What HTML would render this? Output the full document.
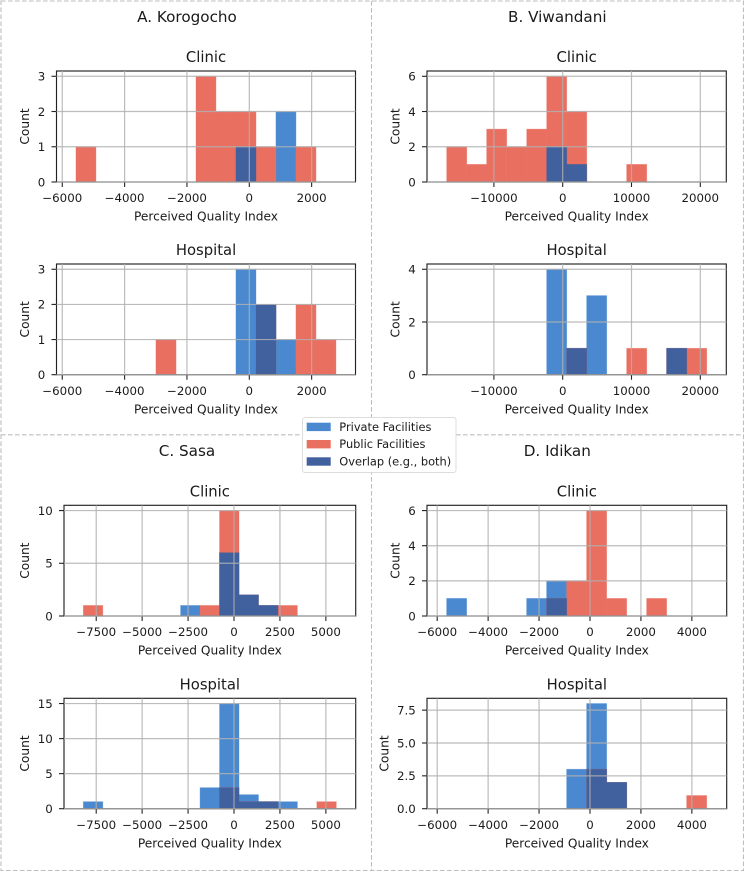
<!DOCTYPE html>
<html>
<head>
<meta charset="utf-8">
<style>
html,body{margin:0;padding:0;background:#fff;}
svg{display:block;}
text{font-family:"DejaVu Sans","Liberation Sans",sans-serif;fill:#1a1a1a;}
</style>
</head>
<body>
<svg id="figure" width="744" height="871" viewBox="0 0 744 871" xmlns="http://www.w3.org/2000/svg">
  <rect x="0" y="0" width="744" height="871" fill="#ffffff"/>
  <g fill="none" stroke="#bdbdbd" stroke-width="1.1" stroke-dasharray="4.6 2.4">
    <rect x="1" y="1" width="742.5" height="869.5"/>
    <line x1="371.5" y1="1" x2="371.5" y2="870.5"/>
    <line x1="1" y1="434.8" x2="743.5" y2="434.8"/>
  </g>
  <text x="187" y="22" font-size="15.2" text-anchor="middle">A. Korogocho</text>
  <text x="557.3" y="22" font-size="15.2" text-anchor="middle">B. Viwandani</text>
  <text x="187" y="456" font-size="15.2" text-anchor="middle">C. Sasa</text>
  <text x="557.3" y="456" font-size="15.2" text-anchor="middle">D. Idikan</text>
  <g id="charts"></g>
  <g>
    <rect x="302.5" y="417.5" width="153.5" height="55" rx="2.5" fill="#ffffff" fill-opacity="0.95" stroke="#dcdcdc" stroke-width="1"/>
    <g>
      <rect x="306.7" y="422.7" width="24" height="8.4" fill="#4a89cf"/>
      <text x="339.3" y="431" font-size="11.4">Private Facilities</text>
    </g>
    <g>
      <rect x="306.7" y="440" width="24" height="8.4" fill="#e96f61"/>
      <text x="339.3" y="448.2" font-size="11.4">Public Facilities</text>
    </g>
    <g>
      <rect x="306.7" y="457.3" width="24" height="8.4" fill="#41609e"/>
      <text x="339.3" y="465.5" font-size="11.4">Overlap (e.g., both)</text>
    </g>
  </g>
</svg>
<script>
// Bin edges per site (quality index units)
const korogochoEdges = [-5560,-4920,-4280,-3640,-2995,-2350,-1710,-1070,-428,214,855,1497,2139,2780];
const viwandaniEdges = [-16860,-13950,-11050,-8140,-5230,-2325,581,3488,6395,9300,12210,15116,18023,20930];
const sasaEdges = [-8200,-7141,-6082,-5023,-3964,-2905,-1846,-787,272,1331,2390,3449,4508,5567];
const idikanEdges = [-5628,-4843,-4058,-3272,-2487,-1702,-916,-131,654,1440,2225,3010,3796,4581];

// Counts per bin
const korogochoClinicPrivate = [0,0,0,0,0,0,0,0,1,0,2,0,0];
const korogochoClinicPublic = [1,0,0,0,0,0,3,2,2,1,0,1,0];
const korogochoHospitalPrivate = [0,0,0,0,0,0,0,0,3,2,1,0,0];
const korogochoHospitalPublic = [0,0,0,0,1,0,0,0,0,2,0,2,1];
const viwandaniClinicPrivate = [0,0,0,0,0,2,1,0,0,0,0,0,0];
const viwandaniClinicPublic = [2,1,3,2,3,6,4,0,0,1,0,0,0];
const viwandaniHospitalPrivate = [0,0,0,0,0,4,1,3,0,0,0,1,0];
const viwandaniHospitalPublic = [0,0,0,0,0,0,1,0,0,1,0,1,1];
const sasaClinicPrivate = [0,0,0,0,0,1,0,6,2,1,0,0,0];
const sasaClinicPublic = [1,0,0,0,0,0,1,10,2,1,1,0,0];
const sasaHospitalPrivate = [1,0,0,0,0,0,3,15,2,1,1,0,0];
const sasaHospitalPublic = [0,0,0,0,0,0,0,3,1,1,0,0,1];
const idikanClinicPrivate = [1,0,0,0,1,2,0,0,0,0,0,0,0];
const idikanClinicPublic = [0,0,0,0,0,1,2,6,1,0,1,0,0];
const idikanHospitalPrivate = [0,0,0,0,0,0,3,8,2,0,0,0,0];
const idikanHospitalPublic = [0,0,0,0,0,0,0,3,2,0,0,0,1];

// Axis ticks
const korogochoXTicks = [-6000,-4000,-2000,0,2000];
const viwandaniXTicks = [-10000,0,10000,20000];
const sasaXTicks = [-7500,-5000,-2500,0,2500,5000];
const idikanXTicks = [-6000,-4000,-2000,0,2000,4000];
const korogochoClinicYTicks = [0,1,2,3];
const korogochoHospitalYTicks = [0,1,2,3];
const viwandaniClinicYTicks = [0,2,4,6];
const viwandaniHospitalYTicks = [0,2,4];
const sasaClinicYTicks = [0,5,10];
const sasaHospitalYTicks = [0,5,10,15];
const idikanClinicYTicks = [0,2,4,6];
const idikanHospitalYTicks = ['0.0','2.5','5.0','7.5'];

// Axis x-limits
const korogochoXLimits = [-6185,3407];
const viwandaniXLimits = [-19724,23779];
const sasaXLimits = [-9253,6624];
const idikanXLimits = [-6400,5368];

const COLORS = {private:'#4a89cf', public:'#e96f61', overlap:'#41609e'};
const SVGNS = 'http://www.w3.org/2000/svg';
const root = document.getElementById('charts');

function make(parent, tag, attrs, txt){
  const el = document.createElementNS(SVGNS, tag);
  for (const k in attrs) el.setAttribute(k, attrs[k]);
  if (txt !== undefined) el.textContent = txt;
  parent.appendChild(el);
  return el;
}
function fmt(v){ return String(v).replace('-', '\u2212'); }

function drawChart(o){
  const g = make(root, 'g', {});
  
  
  const w = o.right - o.left, h = o.bottom - o.top;
  const maxCount = Math.max.apply(null, o.priv.concat(o.pub));
  const yMax = maxCount * 1.05;
  const xScale = v => o.left + (v - o.xLim[0]) / (o.xLim[1] - o.xLim[0]) * w;
  const yScale = v => o.bottom - v / yMax * h;

  const drawBars = (values, color, kind) => {
    values.forEach((c, i) => {
      if (!(c > 0)) return;
      const x0 = xScale(o.edges[i]), x1 = xScale(o.edges[i + 1]);
      const bar = make(g, 'rect', {x:x0, y:yScale(c), width:x1 - x0, height:o.bottom - yScale(c), fill:color, stroke:color, 'stroke-width':0.8, 'stroke-opacity':0.45});
      
      
    });
  };
  drawBars(o.priv, COLORS.private, 'private');
  drawBars(o.pub, COLORS.public, 'public');
  drawBars(o.priv.map((p, i) => Math.min(p, o.pub[i])), COLORS.overlap, 'overlap');

  const frame = make(g, 'rect', {x:o.left, y:o.top, width:w, height:h, fill:'none', stroke:'#222', 'stroke-width':1.15});
  
  

  o.xTicks.forEach(v => {
    const x = xScale(v);
    const gl = make(g, 'line', {x1:x, x2:x, y1:o.top, y2:o.bottom, stroke:'#b0b0b0', 'stroke-width':1.2, 'stroke-opacity':0.85});
    
    
    const tk = make(g, 'line', {x1:x, x2:x, y1:o.bottom, y2:o.bottom + 5, stroke:'#222', 'stroke-width':1.1});
    
    
    const lb = make(g, 'text', {x:x, y:o.bottom + 20.2, 'font-size':11.8, 'text-anchor':'middle'}, fmt(v));
    
    
  });
  o.yTicks.forEach(v => {
    const y = yScale(+v);
    const gl = make(g, 'line', {x1:o.left, x2:o.right, y1:y, y2:y, stroke:'#b0b0b0', 'stroke-width':1.2, 'stroke-opacity':0.85});
    
    
    const tk = make(g, 'line', {x1:o.left - 5, x2:o.left, y1:y, y2:y, stroke:'#222', 'stroke-width':1.1});
    
    
    const lb = make(g, 'text', {x:o.left - 11.2, y:y + 4.3, 'font-size':11.8, 'text-anchor':'end'}, fmt(v));
    
    
  });

  const cx = (o.left + o.right) / 2;
  const title = make(g, 'text', {x:cx, y:o.top - 9, 'font-size':14.8, 'text-anchor':'middle'}, o.title);
  
  
  const xl = make(g, 'text', {x:cx, y:o.bottom + 38.6, 'font-size':12.2, 'text-anchor':'middle'}, 'Perceived Quality Index');
  
  
  const yl = make(g, 'text', {x:0, y:0, 'font-size':12.2, 'text-anchor':'middle', transform:'translate(' + o.yLabelX + ',' + ((o.top + o.bottom) / 2) + ') rotate(-90)'}, 'Count');
  
  
}

drawChart({name:'korogocho-clinic', title:'Clinic', left:56.5, right:355.5, top:71, bottom:182, yLabelX:29, edges:korogochoEdges, priv:korogochoClinicPrivate, pub:korogochoClinicPublic, xLim:korogochoXLimits, xTicks:korogochoXTicks, yTicks:korogochoClinicYTicks});
drawChart({name:'korogocho-hospital', title:'Hospital', left:56.5, right:355.5, top:264, bottom:374.7, yLabelX:29, edges:korogochoEdges, priv:korogochoHospitalPrivate, pub:korogochoHospitalPublic, xLim:korogochoXLimits, xTicks:korogochoXTicks, yTicks:korogochoHospitalYTicks});
drawChart({name:'viwandani-clinic', title:'Clinic', left:427, right:726.3, top:71, bottom:182, yLabelX:399.5, edges:viwandaniEdges, priv:viwandaniClinicPrivate, pub:viwandaniClinicPublic, xLim:viwandaniXLimits, xTicks:viwandaniXTicks, yTicks:viwandaniClinicYTicks});
drawChart({name:'viwandani-hospital', title:'Hospital', left:427, right:726.3, top:264, bottom:374.7, yLabelX:399.5, edges:viwandaniEdges, priv:viwandaniHospitalPrivate, pub:viwandaniHospitalPublic, xLim:viwandaniXLimits, xTicks:viwandaniXTicks, yTicks:viwandaniHospitalYTicks});
drawChart({name:'sasa-clinic', title:'Clinic', left:64, right:355.7, top:505.3, bottom:616, yLabelX:29, edges:sasaEdges, priv:sasaClinicPrivate, pub:sasaClinicPublic, xLim:sasaXLimits, xTicks:sasaXTicks, yTicks:sasaClinicYTicks});
drawChart({name:'sasa-hospital', title:'Hospital', left:64, right:355.7, top:698.3, bottom:808.7, yLabelX:29, edges:sasaEdges, priv:sasaHospitalPrivate, pub:sasaHospitalPublic, xLim:sasaXLimits, xTicks:sasaXTicks, yTicks:sasaHospitalYTicks});
drawChart({name:'idikan-clinic', title:'Clinic', left:427, right:726.7, top:505.3, bottom:616, yLabelX:399.5, edges:idikanEdges, priv:idikanClinicPrivate, pub:idikanClinicPublic, xLim:idikanXLimits, xTicks:idikanXTicks, yTicks:idikanClinicYTicks});
drawChart({name:'idikan-hospital', title:'Hospital', left:427, right:726.7, top:698.3, bottom:808.7, yLabelX:388.5, edges:idikanEdges, priv:idikanHospitalPrivate, pub:idikanHospitalPublic, xLim:idikanXLimits, xTicks:idikanXTicks, yTicks:idikanHospitalYTicks});
</script>
</body>
</html>
